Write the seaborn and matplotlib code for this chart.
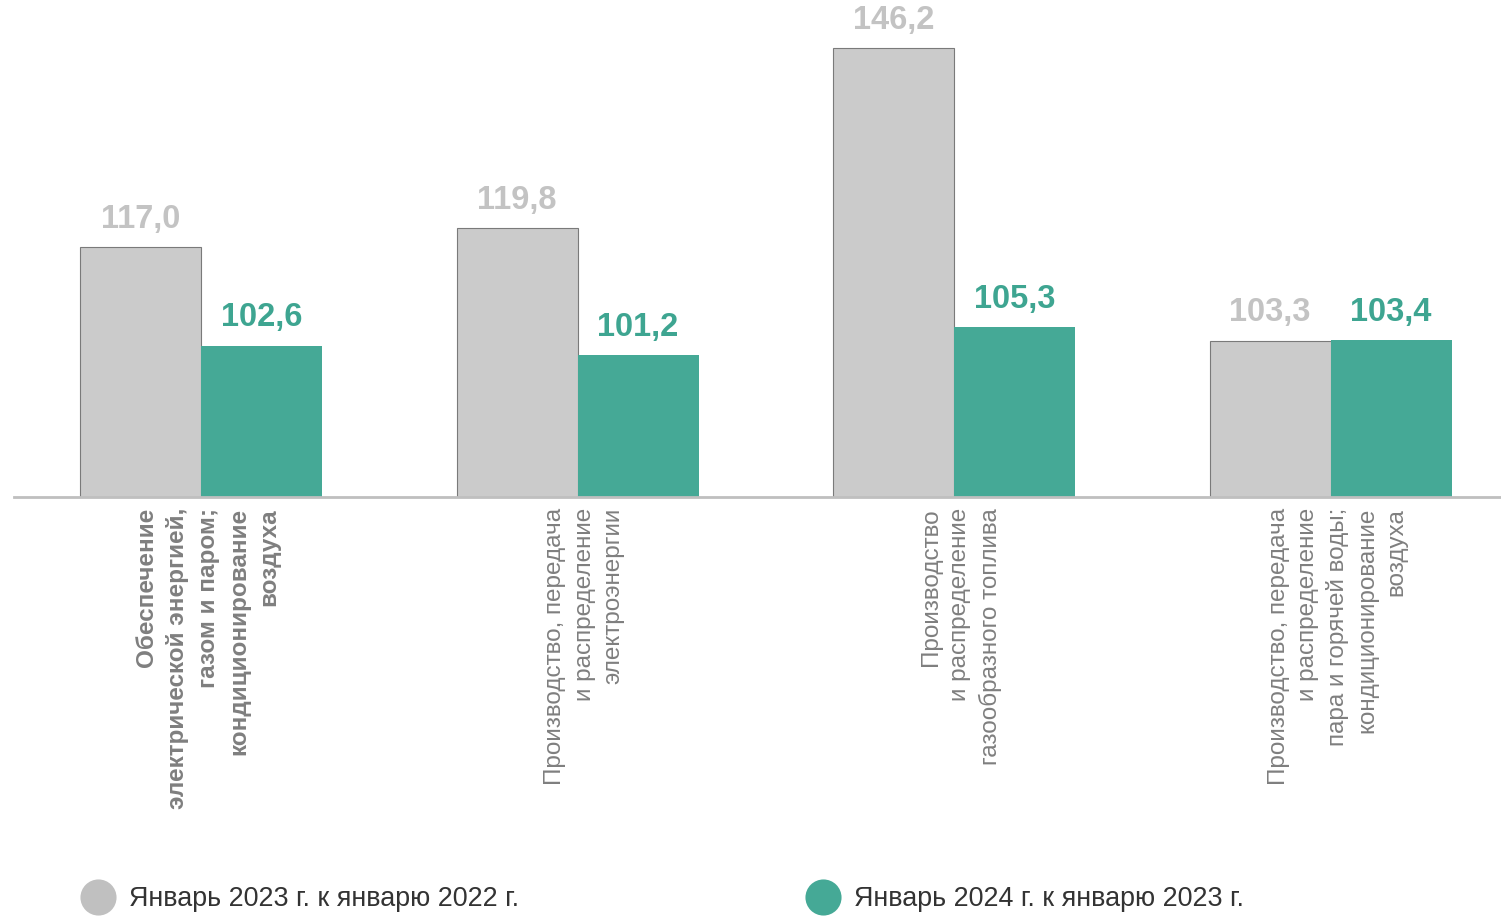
import matplotlib
matplotlib.use("Agg")
import matplotlib.pyplot as plt
import matplotlib.transforms as mtrans
from matplotlib.lines import Line2D
import seaborn as sns
import pandas as pd

categories = [
    "Обеспечение\nэлектрической энергией,\nгазом и паром;\nкондиционирование\nвоздуха",
    "Производство, передача\nи распределение\nэлектроэнергии",
    "Производство\nи распределение\nгазообразного топлива",
    "Производство, передача\nи распределение\nпара и горячей воды;\nкондиционирование\nвоздуха",
]
series_names = ["Январь 2023 г. к январю 2022 г.", "Январь 2024 г. к январю 2023 г."]
values_2023 = [117.0, 119.8, 146.2, 103.3]
values_2024 = [102.6, 101.2, 105.3, 103.4]

bar_colors = ["#cbcbcb", "#45a996"]
label_colors = ["#c3c3c3", "#3ea591"]
legend_colors = ["#c0c0c0", "#45a996"]

rows = []
for i, c in enumerate(categories):
    rows.append({"cat": c, "series": series_names[0], "value": values_2023[i]})
    rows.append({"cat": c, "series": series_names[1], "value": values_2024[i]})
df = pd.DataFrame(rows)

sns.set_theme(style="white")
plt.rcParams["font.family"] = ["Liberation Sans", "DejaVu Sans"]

fig = plt.figure(figsize=(15.01, 9.16), dpi=100)
ax = fig.add_axes([14 / 1501, 1 - 497 / 916, (1500 - 14) / 1501, 497 / 916])

sns.barplot(data=df, x="cat", y="value", hue="series", palette=bar_colors,
            width=0.643, gap=0, ax=ax, legend=False, saturation=1, errorbar=None)

for bar in ax.containers[0]:
    bar.set_edgecolor("#7a7a7a")
    bar.set_linewidth(0.8)
for bar in ax.containers[1]:
    bar.set_edgecolor("none")
    bar.set_linewidth(0)

for k, cont in enumerate(ax.containers):
    vals = values_2023 if k == 0 else values_2024
    ax.bar_label(cont, labels=[f"{v:.1f}".replace(".", ",") for v in vals],
                 padding=9, fontsize=23.5, fontweight="bold", color=label_colors[k])

ax.set_ylim(80.4, 153.3)
ax.set_xlim(-0.497, 3.45)
ax.set_xlabel("")
ax.set_ylabel("")
ax.set_yticks([])
for s in ["top", "right", "left"]:
    ax.spines[s].set_visible(False)
ax.spines["bottom"].set_color("#bfbfbf")
ax.spines["bottom"].set_linewidth(2)

ax.set_xticks(range(len(categories)))
ax.set_xticklabels(categories, rotation=90, ha="center", va="top",
                   multialignment="right", fontsize=17.5, color="#7f7f7f",
                   linespacing=1.42)
ax.tick_params(axis="x", length=0, pad=8)
ax.get_xticklabels()[0].set_fontweight("bold")
offset = mtrans.ScaledTranslation(7 / 100, 0, fig.dpi_scale_trans)
for lab in ax.get_xticklabels():
    lab.set_transform(lab.get_transform() + offset)

xs = [98, 823]
for k in range(2):
    h = Line2D([], [], marker="o", linestyle="none", markersize=26,
               markerfacecolor=legend_colors[k], markeredgecolor="none")
    fig.legend(handles=[h], labels=[series_names[k]], loc="center left",
               bbox_to_anchor=((xs[k] - 51) / 1501, 1 - 899 / 916),
               frameon=False, fontsize=19.4, handletextpad=0.15,
               labelcolor="#333333")

fig.savefig("out.png", dpi=100)
